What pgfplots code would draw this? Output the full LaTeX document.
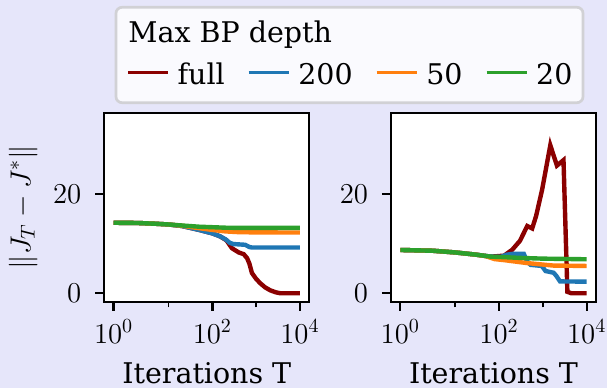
\documentclass[border=0pt]{standalone}
\usepackage{fontspec}
\setmainfont{DejaVu Serif}
\usepackage{pgfplots}
\pgfplotsset{compat=1.18}
\definecolor{bg}{RGB}{230,230,250}
\definecolor{cfull}{RGB}{139,0,0}
\definecolor{c200}{RGB}{31,119,180}
\definecolor{c50}{RGB}{255,127,14}
\definecolor{c20}{RGB}{44,160,44}
\definecolor{legfill}{RGB}{250,250,254}
\definecolor{legedge}{RGB}{209,209,213}
\pgfplotsset{
  common/.style={
    scale only axis, width=102.5pt, height=94.5pt, anchor=south west,
    axis background/.style={fill=white},
    x coord trafo/.code={\pgfmathparse{ifthenelse(##1<=2, ##1*0.555556, 1.111111+ln(##1/2)/2.302585)}},
    enlarge x limits={rel=0.05},
    ymin=-1.7, ymax=36.48,
    xtick={1,100,10000}, minor xtick={10,1000},
    xticklabels={$10^{0}$,$10^{2}$,$10^{4}$},
    ytick={0,20},
    tick pos=left, tick align=outside,
    major tick length=4.5pt, minor tick length=2.8pt,
    every major tick/.append style={black, line width=1.15pt},
    every minor tick/.append style={black, line width=0.9pt},
    axis line style={line width=1.15pt},
    xticklabel style={anchor=base, inner sep=0pt},
    xticklabel shift=16.3pt,
    yticklabel style={anchor=east, inner sep=0pt},
    yticklabel shift=6.8pt,
    xlabel={Iterations T},
    xlabel style={at={(axis description cs:0.5,-0.4354)}, anchor=base, inner sep=0pt},
    every axis plot/.append style={line width=2.2pt, no markers},
  }
}
\begin{document}
\fontsize{14.25}{17}\selectfont
\begin{tikzpicture}
\fill[bg] (0,0) rectangle (303.5pt,194pt);
\draw[legedge, fill=legfill, line width=1.35pt, rounded corners=3pt] (58pt,142.65pt) rectangle (291.5pt,190.35pt);
\node[anchor=base west, inner sep=0pt] at (64pt,172.65pt) {Max BP depth};
\begin{axis}[common, at={(52.15pt,43.15pt)},
  ylabel={$\|J_T - J^*\|$},
  ylabel style={at={(axis description cs:-0.3956,0.5)}, anchor=center, inner sep=0pt},
  legend columns=4,
  legend style={at={(axis description cs:0.1059,1.1958)}, anchor=west, draw=none, fill=none, inner sep=0pt,
    nodes={inner sep=0pt},
    /tikz/every odd column/.append style={column sep=4pt},
    /tikz/every even column/.append style={column sep=11.2pt}},
  legend image code/.code={\draw[#1, line width=1.6pt] (0pt,1.6pt) -- (20pt,1.6pt);},
]
\addplot[cfull] coordinates {(1,14.25) (2,14.2) (5,14.05) (10,13.9) (20,13.6) (50,12.8) (100,12.1) (150,11.5) (210,10.7) (280,9.1) (400,8.25) (520,7.9) (620,7.1) (700,6.0) (800,4.1) (1000,2.9) (1250,2.0) (1600,1.2) (2100,0.6) (2800,0.2) (3600,0.0) (10000,0.0)};
\addlegendentry{full}
\addplot[c200] coordinates {(1,14.25) (2,14.2) (5,14.05) (10,13.9) (20,13.6) (50,12.8) (100,12.1) (150,11.5) (200,10.9) (250,10.2) (300,9.95) (560,9.8) (700,9.35) (800,9.25) (10000,9.25)};
\addlegendentry{200}
\addplot[c50] coordinates {(1,14.25) (2,14.2) (5,14.05) (10,13.9) (20,13.65) (50,13.15) (100,12.8) (200,12.5) (400,12.35) (1000,12.3) (10000,12.28)};
\addlegendentry{50}
\addplot[c20] coordinates {(1,14.25) (2,14.2) (5,14.05) (10,13.9) (20,13.7) (50,13.45) (100,13.35) (200,13.25) (500,13.2) (10000,13.2)};
\addlegendentry{20}
\end{axis}
\begin{axis}[common, at={(195.5pt,43.15pt)}]
\addplot[cfull] coordinates {(1,8.75) (3,8.6) (10,8.25) (30,7.8) (65,7.4) (130,7.6) (200,8.8) (300,10.6) (440,13.6) (570,13.1) (700,15.6) (960,20.9) (1479,29.9) (2094,25.8) (2958,26.9) (3630,0.3) (4500,0.0) (10000,0.0)};
\addplot[c200] coordinates {(1,8.75) (3,8.6) (10,8.25) (30,7.8) (65,7.4) (110,7.35) (150,7.8) (200,7.95) (368,7.95) (440,6.4) (521,5.75) (948,5.52) (1150,4.5) (1740,4.16) (2000,3.6) (2464,2.4) (10000,2.35)};
\addplot[c50] coordinates {(1,8.75) (3,8.6) (10,8.25) (30,7.8) (50,7.5) (80,6.9) (130,6.7) (440,6.1) (1740,5.6) (10000,5.52)};
\addplot[c20] coordinates {(1,8.75) (3,8.6) (10,8.25) (30,7.8) (65,7.4) (130,7.3) (300,7.15) (1000,7.0) (10000,6.87)};
\end{axis}
\pgfresetboundingbox
\path[use as bounding box] (0,0) rectangle (303.5pt,194pt);
\end{tikzpicture}
\end{document}
